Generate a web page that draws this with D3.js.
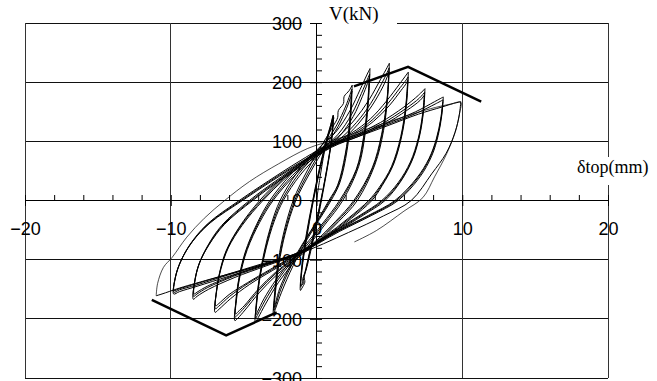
<!DOCTYPE html>
<html>
<head>
<meta charset="utf-8">
<script src="https://cdn.jsdelivr.net/npm/d3@7"></script>
<style>
  html, body { margin: 0; padding: 0; background: #fff; }
  svg { display: block; }
</style>
</head>
<body>
<svg id="chart" width="657" height="381"></svg>
<script>
// Axis ticks and titles
const xTicks = [-20, -10, 0, 10, 20];
const yTicks = [-300, -200, -100, 0, 100, 200, 300];
const xTitle = "δtop(mm)";
const yTitle = "V(kN)";

// Hysteresis cycles, grouped by drift level: [displacement (mm), shear (kN)]
const level1 = [
  [[0,0],[0.3,48],[0.62,92],[0.92,122],[1.15,144],[1.1,116],[0.86,72],[0.46,16],[0.05,-36],[-0.4,-86],[-0.72,-118],[-0.86,-128],[-0.8,-138],[-1.0,-148],[-1.1,-152],[-1.05,-122],[-0.86,-82],[-0.5,-30],[-0.1,20],[0.35,70],[0.76,110],[1.05,134],[1.15,144]],
  [[1.15,144],[1.08,112],[0.82,68],[0.4,12],[0,-38],[-0.46,-88],[-0.76,-120],[-0.92,-136],[-1.08,-146],[-1.02,-118],[-0.8,-78],[-0.44,-26],[-0.04,24],[0.42,74],[0.82,112],[1.08,132],[1.14,140]],
  [[1.14,140],[1.05,108],[0.78,64],[0.36,8],[-0.06,-40],[-0.5,-90],[-0.8,-122],[-0.95,-134],[-0.9,-140],[-1.05,-143],[-0.98,-114],[-0.74,-74],[-0.38,-22],[0.02,28],[0.48,78],[0.9,116],[1.1,132],[1.2,140]]
];
const level2 = [
  [[2.45,195],[2.35,140],[2.1,85],[1.6,30],[1.0,0],[0.2,-32],[-0.7,-68],[-1.6,-110],[-2.4,-155],[-2.8,-182],[-2.96,-192],[-2.9,-165],[-2.7,-115],[-2.3,-60],[-1.6,0],[-0.6,52],[0.4,95],[1.2,128],[1.45,140],[1.5,152],[1.85,164],[1.9,176],[2.25,186],[2.45,195]],
  [[2.42,188],[2.3,135],[2.03,82],[1.52,28],[0.92,0],[0.12,-33],[-0.78,-68],[-1.68,-108],[-2.45,-150],[-2.8,-177],[-2.93,-186],[-2.86,-160],[-2.64,-112],[-2.22,-58],[-1.5,0],[-0.5,50],[0.5,92],[1.4,128],[1.98,158],[2.3,179],[2.42,188]],
  [[2.4,183],[2.26,130],[1.97,78],[1.45,26],[0.85,0],[0.05,-34],[-0.85,-69],[-1.74,-107],[-2.5,-147],[-2.8,-172],[-2.9,-181],[-2.82,-156],[-2.58,-108],[-2.14,-55],[-1.42,0],[-0.42,48],[0.58,90],[1.48,125],[2.05,155],[2.33,174],[2.45,185]]
];
const level3 = [
  [[3.67,223],[3.58,175],[3.35,115],[2.9,58],[1.8,0],[0.6,-40],[-0.6,-78],[-1.6,-106],[-2.6,-138],[-3.5,-175],[-4.0,-198],[-4.2,-206],[-4.15,-180],[-3.95,-135],[-3.6,-88],[-3.1,-40],[-2.5,0],[-1.4,45],[0,85],[1.3,115],[2.3,152],[3.0,188],[3.45,212],[3.67,223]],
  [[3.65,214],[3.54,168],[3.28,110],[2.8,55],[1.68,0],[0.48,-40],[-0.7,-77],[-1.7,-104],[-2.7,-136],[-3.55,-170],[-4.02,-192],[-4.18,-199],[-4.12,-174],[-3.9,-130],[-3.52,-84],[-3.0,-37],[-2.38,0],[-1.25,44],[0.15,82],[1.45,111],[2.42,146],[3.08,181],[3.48,204],[3.65,214]],
  [[3.62,207],[3.5,162],[3.22,106],[2.72,52],[1.58,0],[0.38,-40],[-0.8,-76],[-1.78,-103],[-2.78,-134],[-3.6,-166],[-4.03,-187],[-4.15,-193],[-4.08,-169],[-3.85,-126],[-3.45,-80],[-2.9,-35],[-2.28,0],[-1.12,43],[0.28,80],[1.55,108],[2.52,142],[3.15,176],[3.5,198],[3.62,207]]
];
const level4 = [
  [[5.0,232],[4.9,180],[4.6,118],[4.0,60],[2.8,0],[1.5,-36],[0.1,-70],[-1.3,-97],[-2.7,-125],[-3.9,-155],[-4.9,-185],[-5.4,-199],[-5.6,-203],[-5.55,-175],[-5.35,-135],[-4.9,-88],[-4.1,-40],[-3.2,0],[-1.8,43],[-0.2,80],[1.4,106],[2.6,136],[3.6,170],[4.4,205],[4.85,225],[5.0,232]],
  [[4.98,224],[4.86,174],[4.52,114],[3.9,57],[2.66,0],[1.38,-36],[-0.02,-70],[-1.4,-96],[-2.78,-123],[-3.96,-152],[-4.94,-181],[-5.4,-193],[-5.58,-197],[-5.52,-170],[-5.3,-131],[-4.82,-85],[-4.0,-38],[-3.08,0],[-1.66,42],[-0.05,78],[1.55,103],[2.75,132],[3.72,164],[4.48,198],[4.86,217],[4.98,224]],
  [[4.96,218],[4.83,169],[4.46,111],[3.82,55],[2.56,0],[1.28,-36],[-0.12,-70],[-1.48,-96],[-2.84,-122],[-4.0,-150],[-4.96,-178],[-5.38,-188],[-5.55,-192],[-5.48,-166],[-5.25,-128],[-4.75,-83],[-3.9,-37],[-2.98,0],[-1.55,41],[0.08,77],[1.68,101],[2.85,129],[3.8,160],[4.55,192],[4.88,211],[4.96,218]]
];
const level5 = [
  [[6.3,217],[6.2,170],[5.9,115],[5.3,62],[4.5,25],[3.8,0],[2.4,-30],[0.7,-62],[-1.3,-93],[-3,-118],[-4.6,-142],[-5.9,-166],[-6.7,-184],[-6.96,-189],[-6.9,-160],[-6.65,-122],[-6.2,-85],[-5.3,-45],[-3.9,0],[-2.4,37],[-0.7,70],[0.9,96],[2.4,114],[3.7,138],[4.8,168],[5.7,197],[6.15,212],[6.3,217]],
  [[6.28,209],[6.16,164],[5.84,111],[5.22,59],[4.4,23],[3.68,0],[2.28,-30],[0.58,-62],[-1.38,-92],[-3.08,-117],[-4.68,-140],[-5.96,-162],[-6.72,-179],[-6.94,-183],[-6.87,-155],[-6.6,-118],[-6.12,-82],[-5.2,-43],[-3.78,0],[-2.28,37],[-0.58,70],[1.02,95],[2.52,113],[3.82,136],[4.9,164],[5.75,191],[6.16,204],[6.28,209]],
  [[6.26,203],[6.12,160],[5.78,108],[5.14,57],[4.3,22],[3.58,0],[2.18,-30],[0.48,-62],[-1.45,-92],[-3.14,-116],[-4.74,-139],[-6.0,-159],[-6.74,-175],[-6.92,-178],[-6.84,-151],[-6.55,-115],[-6.05,-80],[-5.1,-42],[-3.68,0],[-2.16,37],[-0.46,70],[1.14,94],[2.62,112],[3.92,134],[4.98,160],[5.8,186],[6.16,198],[6.26,203]]
];
const level6 = [
  [[7.44,189],[7.36,155],[7.1,112],[6.6,70],[5.8,33],[4.7,0],[3.2,-25],[1.2,-55],[-1.3,-91],[-3.4,-110],[-5.6,-130],[-7.4,-150],[-8.2,-162],[-8.45,-167],[-8.38,-140],[-8.1,-110],[-7.5,-78],[-6.5,-42],[-4.6,0],[-2.8,33],[-0.8,67],[0.8,92],[2.6,110],[4.4,132],[6.0,158],[7.0,178],[7.44,189]],
  [[7.42,183],[7.32,150],[7.04,108],[6.52,67],[5.7,31],[4.58,0],[3.08,-25],[1.08,-55],[-1.38,-90],[-3.48,-109],[-5.68,-128],[-7.46,-147],[-8.2,-158],[-8.43,-162],[-8.35,-136],[-8.05,-107],[-7.42,-76],[-6.4,-41],[-4.48,0],[-2.68,33],[-0.68,66],[0.92,91],[2.72,109],[4.52,130],[6.1,155],[7.06,173],[7.42,183]],
  [[7.4,178],[7.28,146],[6.98,105],[6.44,65],[5.6,30],[4.48,0],[2.98,-25],[0.98,-55],[-1.45,-90],[-3.54,-108],[-5.74,-127],[-7.5,-145],[-8.2,-155],[-8.4,-158],[-8.32,-133],[-8.0,-104],[-7.35,-74],[-6.3,-40],[-4.38,0],[-2.56,33],[-0.56,65],[1.04,90],[2.84,108],[4.62,128],[6.18,152],[7.1,169],[7.4,178]]
];
const level7 = [
  [[8.7,175],[8.6,145],[8.35,110],[7.9,75],[7.1,40],[5.6,0],[3.8,-25],[1.6,-52],[-1.3,-91],[-3.6,-109],[-6,-128],[-8.2,-145],[-9.4,-154],[-9.8,-158],[-9.72,-135],[-9.4,-108],[-8.7,-75],[-7.5,-40],[-5.3,0],[-3.3,33],[-1.2,66],[0.5,90],[2.4,108],[4.6,128],[6.8,150],[8.1,167],[8.7,175]],
  [[8.68,170],[8.56,141],[8.28,107],[7.8,73],[6.98,39],[5.48,0],[3.68,-25],[1.48,-52],[-1.38,-90],[-3.68,-108],[-6.08,-126],[-8.26,-143],[-9.4,-151],[-9.78,-155],[-9.7,-132],[-9.36,-105],[-8.62,-73],[-7.4,-39],[-5.18,0],[-3.18,33],[-1.08,65],[0.62,89],[2.52,107],[4.72,127],[6.9,148],[8.14,163],[8.68,170]],
  [[8.66,166],[8.52,138],[8.22,104],[7.72,71],[6.88,38],[5.38,0],[3.58,-25],[1.38,-52],[-1.45,-90],[-3.74,-107],[-6.14,-125],[-8.3,-141],[-9.4,-149],[-9.76,-152],[-9.68,-129],[-9.32,-103],[-8.56,-71],[-7.3,-38],[-5.08,0],[-3.06,33],[-0.96,65],[0.74,89],[2.64,106],[4.84,126],[7.0,146],[8.6,158],[9.4,164],[9.9,167]]
];
const level8 = [
  [[9.9,167],[9.8,145],[9.5,115],[8.9,80],[7.9,45],[6.5,0],[4.6,-26],[2.2,-54],[-1.3,-91],[-4.2,-112],[-7,-131],[-9.4,-148],[-10.6,-158],[-11,-161]]
];
// final excursion, drawn lighter
const finalCycle = [[-11,-161],[-10.9,-140],[-10.5,-113],[-9.9,-96],[-8.9,-62],[-7.7,-30],[-6.3,0],[-4.6,32],[-2.6,62],[-0.6,88],[1.4,104],[3.6,122],[5.8,140],[7.8,155],[9.2,163],[9.9,166],[9.82,148],[9.55,118],[8.95,80],[8.1,40],[7.3,5],[6.0,-18],[4.1,-51],[2.6,-70]];

// Idealised envelope
const envelopePos = [[2.57,193],[6.28,226],[11.3,167]];
const envelopeNeg = [[-2.73,-189],[-6.2,-228],[-11.3,-168]];

const svg = d3.select("#chart");
const x = d3.scaleLinear().domain([-20, 20]).range([25, 608]);
const y = d3.scaleLinear().domain([-300, 300]).range([378, 23]);
const px = v => Math.floor(v) + 0.5;

// Gridlines (the zero lines are the axes)
const grid = svg.append("g");
grid.selectAll("line.h").data(yTicks.filter(v => v !== 0)).join("line")
  .attr("x1", x(-20)).attr("x2", x(20))
  .attr("y1", d => px(y(d))).attr("y2", d => px(y(d)))
  .attr("stroke", "#111").attr("stroke-width", 1);
grid.selectAll("line.v").data(xTicks.filter(v => v !== 0)).join("line")
  .attr("x1", d => px(x(d))).attr("x2", d => px(x(d)))
  .attr("y1", y(300)).attr("y2", y(-300))
  .attr("stroke", "#333").attr("stroke-width", 1);

// White boxes behind the axis titles
svg.append("rect").attr("x", 302).attr("y", 0).attr("width", 95).attr("height", 29).attr("fill", "#fff");
svg.append("rect").attr("x", 572).attr("y", 157).attr("width", 85).attr("height", 28).attr("fill", "#fff");

const fontSans = "'Liberation Sans', Arial, sans-serif";
const fontSerif = "'Liberation Serif', 'Times New Roman', serif";

// Axes crossing at the origin
const xAxisG = svg.append("g").attr("transform", `translate(0,${Math.floor(y(0))})`)
  .call(d3.axisBottom(x).tickValues(xTicks).tickSize(6).tickSizeOuter(0).tickFormat(d3.format("d")));
xAxisG.selectAll(".tick line").attr("y1", -5).attr("y2", 6);
xAxisG.selectAll(".tick text").attr("y", 34.5).attr("dy", null);

const xMinor = d3.range(-20, 20.01, 2).filter(v => v % 10 !== 0);
svg.append("g").attr("transform", `translate(0,${Math.floor(y(0))})`)
  .call(d3.axisTop(x).tickValues(xMinor).tickSize(5).tickSizeOuter(0).tickFormat(""))
  .select(".domain").remove();

const yAxisG = svg.append("g").attr("transform", `translate(${Math.floor(x(0))},0)`)
  .call(d3.axisLeft(y).tickValues(yTicks).tickSize(6).tickSizeOuter(0).tickFormat(d3.format("d")));
yAxisG.selectAll(".tick line").attr("x1", 6);
yAxisG.selectAll(".tick text").attr("x", -14).attr("dy", "0.36em");

const yMinor = d3.range(-300, 300.01, 20).filter(v => v % 100 !== 0);
svg.append("g").attr("transform", `translate(${Math.floor(x(0))},0)`)
  .call(d3.axisRight(y).tickValues(yMinor).tickSize(6).tickSizeOuter(0).tickFormat(""))
  .select(".domain").remove();

svg.selectAll(".domain").attr("stroke", "#000");
svg.selectAll(".tick line").attr("stroke", "#000");
svg.selectAll(".tick text").attr("fill", "#000").style("font-family", fontSans).style("font-size", "18px");

// Loops
const line = d3.line().x(d => x(d[0])).y(d => y(d[1])).curve(d3.curveCatmullRom.alpha(0.5));
const loops = svg.append("g").attr("fill", "none").attr("stroke", "#000").attr("stroke-linejoin", "round");
[level1, level2, level3, level4, level5, level6, level7, level8].forEach(level => {
  level.forEach(cycle => {
    loops.append("path").attr("d", line(cycle)).attr("stroke-width", 1);
  });
});
loops.append("path").attr("d", line(finalCycle)).attr("stroke-width", 0.7);

// Envelope
const envLine = d3.line().x(d => x(d[0])).y(d => y(d[1]));
[envelopePos, envelopeNeg].forEach(env => {
  svg.append("path").attr("d", envLine(env)).attr("fill", "none")
    .attr("stroke", "#000").attr("stroke-width", 2.5).attr("stroke-linejoin", "miter");
});

// Axis titles
svg.append("text").attr("x", 329).attr("y", 20).text(yTitle)
  .style("font-family", fontSerif).style("font-size", "19px").attr("fill", "#000");
svg.append("text").attr("x", 577).attr("y", 173).text(xTitle)
  .style("font-family", fontSerif).style("font-size", "18px").attr("fill", "#000");
</script>
</body>
</html>
